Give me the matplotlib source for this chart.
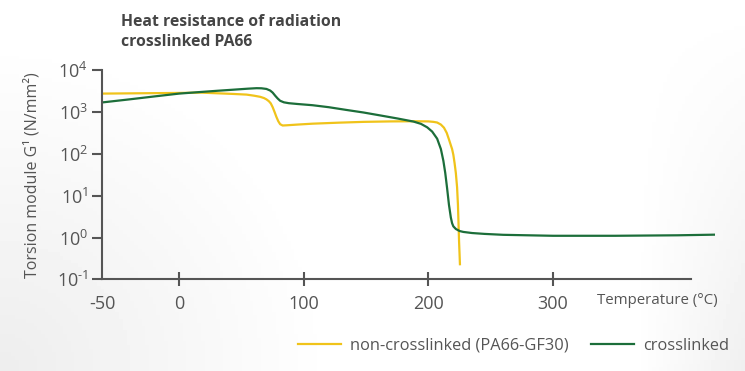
import numpy as np
import matplotlib.pyplot as plt
from matplotlib.ticker import FixedLocator, NullLocator

plt.rcParams['font.family'] = ['Open Sans', 'DejaVu Sans']
plt.rcParams['mathtext.fontset'] = 'custom'
plt.rcParams['mathtext.rm'] = 'Open Sans'

############## Data ##############

temp_std = [-61, -30, 0, 17, 30, 43, 54, 60, 65, 68, 70, 72, 73.5, 75, 76.5, 78, 79.5, 81,
            83, 86, 95, 107, 128, 148, 170, 188, 200, 204, 207, 210, 212.5, 214.7, 216.5,
            218, 219, 220, 221, 222, 223, 223.7, 224.2, 224.6, 225, 225.3]
mod_std = [2750, 2800, 2850, 2900, 2800, 2700, 2600, 2450, 2300, 2150, 2000, 1800, 1600,
           1300, 1000, 760, 600, 510, 475, 480, 500, 525, 555, 580, 595, 600, 595, 580,
           560, 500, 420, 316, 220, 160, 130, 95, 60, 35, 16, 6, 2, 0.8, 0.4, 0.23]

temp_xl = [-61, -40, -20, 0, 17, 30, 43, 55, 62, 66, 70, 73, 75, 77, 79, 81, 84, 88, 95,
           107, 120, 134, 148, 161, 175, 188, 194, 199, 203, 207, 210, 212, 213.5, 215,
           216.5, 218, 219, 220, 222, 225, 228, 235, 245, 260, 300, 350, 400, 430]
mod_xl = [1700, 2000, 2350, 2750, 3000, 3200, 3400, 3600, 3700, 3680, 3550, 3250, 2900,
          2450, 2100, 1850, 1700, 1620, 1550, 1450, 1300, 1120, 970, 830, 700, 590, 520,
          430, 340, 230, 130, 68, 35, 15, 6, 3, 2.2, 1.85, 1.6, 1.43, 1.36, 1.28, 1.22,
          1.16, 1.1, 1.1, 1.13, 1.17]

x_ticks = [0, 100, 200, 300]
x_origin = -62
x_end = 411
y_ticks = [0.1, 1, 10, 100, 1000, 10000]
y_labels = [r'$10^{\text{-}1}$', r'$10^{0}$', r'$10^{1}$', r'$10^{2}$', r'$10^{3}$', r'$10^{4}$']

yellow = '#f0c31a'
green = '#1c6e3a'
grey = '#555555'

############## Figure ##############

fig = plt.figure(figsize=(7.45, 3.71), dpi=100)

# faint grey vignette like the original background
bg = fig.add_axes([0, 0, 1, 1], zorder=-10)
gx, gy = np.meshgrid(np.linspace(0, 1, 200), np.linspace(0, 1, 100))
shade = 1 - 0.07 * np.clip(1 - np.hypot(gx / 0.45, (1 - gy) / 0.9), 0, 1) \
          - 0.06 * np.clip((gx - 0.85) / 0.15, 0, 1) * gy
bg.imshow(shade, cmap='gray', vmin=0, vmax=1, aspect='auto', extent=[0, 1, 0, 1])
bg.axis('off')

ax = fig.add_axes([0.1369, 0.247, 0.8228, 0.564])
ax.patch.set_alpha(0)

l1, = ax.plot(temp_std, mod_std, color=yellow, lw=1.6, label='non-crosslinked (PA66-GF30)')
l2, = ax.plot(temp_xl, mod_xl, color=green, lw=1.6, label='crosslinked')

ax.set_yscale('log')
ax.set_ylim(0.1, 10000)
ax.set_xlim(x_origin, 430)
ax.yaxis.set_major_locator(FixedLocator(y_ticks))
ax.yaxis.set_minor_locator(NullLocator())
ax.set_yticklabels(y_labels)

ax.set_xticks([x_origin] + x_ticks)
ax.set_xticklabels(['-50'] + [str(t) for t in x_ticks])
ax.xaxis.get_major_ticks()[0].tick1line.set_visible(False)

for s in ['top', 'right']:
    ax.spines[s].set_visible(False)
for s in ['left', 'bottom']:
    ax.spines[s].set_color(grey)
    ax.spines[s].set_linewidth(1.5)
ax.spines['bottom'].set_bounds(x_origin, x_end)

ax.tick_params(axis='x', direction='inout', length=10, width=1.5, color=grey,
               labelcolor=grey, labelsize=13, pad=6)
ax.tick_params(axis='y', direction='out', length=7, width=1.5, color=grey,
               labelcolor=grey, labelsize=13, pad=3)

ax.set_ylabel('Torsion module G¹ (N/mm²)', color=grey, fontsize=11.5, labelpad=12)
ax.text(0.8075, -0.102, 'Temperature (°C)', color=grey, fontsize=10.8,
        ha='left', va='center', transform=ax.transAxes)

fig.text(0.162, 0.962, 'Heat resistance of radiation\ncrosslinked PA66', color='#454545',
         fontsize=11.3, fontweight='bold', ha='left', va='top', linespacing=1.33)

fig.legend(handles=[l1, l2], loc='center right', bbox_to_anchor=(0.998, 0.068), ncol=2,
           frameon=False, fontsize=11.8, handlelength=2.6, handletextpad=0.55,
           columnspacing=1.4, labelcolor=grey)

fig.savefig('out.png', dpi=100)
